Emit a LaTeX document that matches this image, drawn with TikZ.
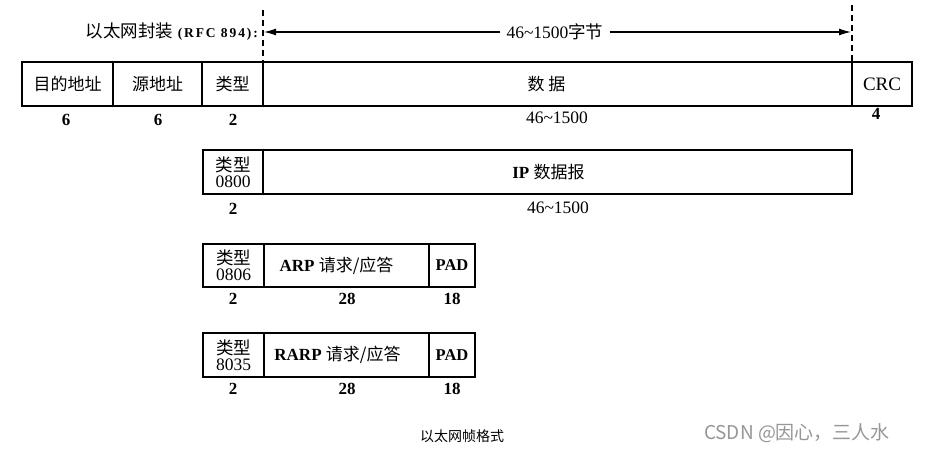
\documentclass[tikz,border=0pt]{standalone}
\usepackage{fontspec}
\setmainfont{Liberation Serif}
\newfontfamily\cjk{Noto Sans CJK SC}
\newfontfamily\wmfont{Noto Sans CJK SC}
\newfontfamily\rfcfont[LetterSpace=14]{Liberation Serif}
\usetikzlibrary{arrows.meta}
\definecolor{wmgray}{RGB}{150,150,150}
\begin{document}
\begin{tikzpicture}[x=1pt,y=-1pt,
  field/.style={draw,line width=1.2pt,anchor=north west,inner sep=0pt,outer sep=0pt,minimum height=44pt,font=\fontsize{17}{19}\selectfont},
  num/.style={font=\bfseries\fontsize{17}{19}\selectfont,inner sep=0pt},
  rng/.style={font=\fontsize{17.5}{19}\selectfont,inner sep=0pt},
  typetxt/.style={align=center,font=\fontsize{17.5}{16}\selectfont,inner sep=0pt},
  dashline/.style={line width=1.1pt,dash pattern=on 6pt off 4pt}]
\useasboundingbox (0,0) rectangle (925,452);

% main frame
\node[field,minimum width=91pt] (dst) at (22,62) {\cjk 目的地址};
\node[field,minimum width=89pt] (src) at (113,62) {\cjk 源地址};
\node[field,minimum width=61pt] (typ) at (202,62) {\cjk 类型};
\node[field,minimum width=589pt] (data) at (263,62) {\hspace*{-22pt}\cjk 数\ 据};
\node[field,minimum width=60pt] (crc) at (852,62) {\fontsize{19}{20}\selectfont CRC};

\node[num] (n1) at (66,120) {6};
\node[num] (n2) at (158,120) {6};
\node[num] (n3) at (233,120) {2};
\node[rng] (n4) at (557,118) {46\textasciitilde1500};
\node[num] (n5) at (876,114) {4};

% dashed bounds and arrow
\coordinate (dltop) at (263,10);
\coordinate (drtop) at (852,5);
\draw[dashline] (dltop) -- (typ.north east);
\draw[dashline] (drtop) -- (crc.north west);
\coordinate (al) at (264,32);
\coordinate (ar) at (851,32);
\node[rng,fill=white,inner xsep=6pt] (alab) at (555,32) {46\textasciitilde1500{\cjk 字节}};
\draw[line width=1.1pt,-{Latex[length=12pt,width=7pt]}] (alab.west) -- (al);
\draw[line width=1.1pt,-{Latex[length=12pt,width=7pt]}] (alab.east) -- (ar);
\node[anchor=east,inner sep=0pt,font=\fontsize{17.5}{19}\selectfont] (enc) at (258,32) {{\cjk 以太网封装} {\rfcfont\bfseries\fontsize{13.5}{14}\selectfont (RFC 894):}};

% IP
\node[field,minimum width=60pt] (t1) at (203,150) {};
\node[typetxt] (t1l) at (t1.center) {{\cjk 类型}\\0800};
\node[field,minimum width=589pt] (ip) at (263,150) {\hspace*{-18pt}{\bfseries IP} {\cjk 数据报}};
\node[num] (m1) at (233,209) {2};
\node[rng] (m2) at (558,208) {46\textasciitilde1500};

% ARP
\node[field,minimum width=61pt,minimum height=43pt] (t2) at (203,244) {};
\node[typetxt] (t2l) at (t2.center) {{\cjk 类型}\\0806};
\node[field,minimum width=165pt,minimum height=43pt] (arp) at (264,244) {\hspace*{-20pt}{\bfseries ARP} {\cjk 请求/应答}};
\node[field,minimum width=46pt,minimum height=43pt] (pad1) at (429,244) {\bfseries\fontsize{16.5}{18}\selectfont PAD};
\node[num] (k1) at (233,299) {2};
\node[num] (k2) at (347,299) {28};
\node[num] (k3) at (452,299) {18};

% RARP
\node[field,minimum width=61pt] (t3) at (203,333) {};
\node[typetxt] (t3l) at (t3.center) {{\cjk 类型}\\8035};
\node[field,minimum width=165pt] (rarp) at (264,333) {\hspace*{-18pt}{\bfseries RARP} {\cjk 请求/应答}};
\node[field,minimum width=46pt] (pad2) at (429,333) {\bfseries\fontsize{16.5}{18}\selectfont PAD};
\node[num] (r1) at (233,389) {2};
\node[num] (r2) at (347,389) {28};
\node[num] (r3) at (452,389) {18};

% captions
\node[font=\cjk\fontsize{14}{16}\selectfont,inner sep=0pt] (cap) at (462,436) {以太网帧格式};
\node[font=\wmfont\fontsize{19}{21}\selectfont,text=wmgray,inner sep=0pt] (wm) at (797,433) {CSDN @因心，三人水};
\end{tikzpicture}
\end{document}
